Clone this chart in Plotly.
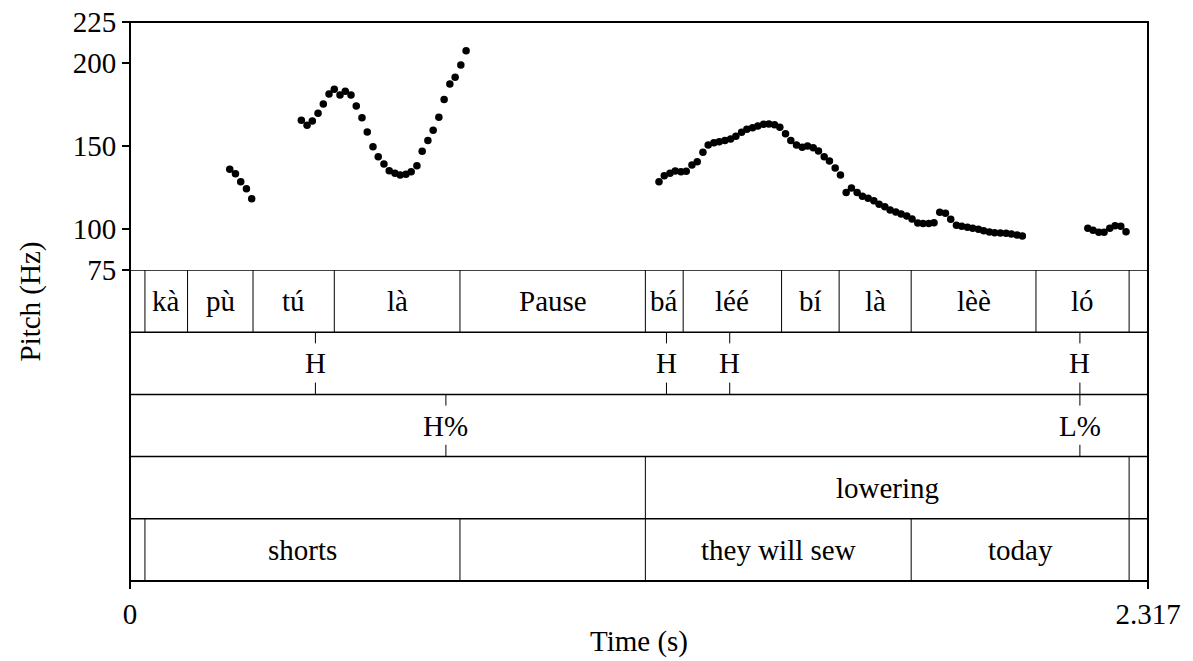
import plotly.graph_objects as go

# pitch track (s, Hz)
seg1_t = [0.227, 0.240, 0.252, 0.265, 0.277]
seg1_f = [135.9, 133.2, 128.4, 124.2, 118.1]

seg2_t = [0.390, 0.403, 0.415, 0.428, 0.440, 0.453, 0.465, 0.478, 0.490, 0.503,
          0.515, 0.528, 0.540, 0.553, 0.565, 0.578, 0.590, 0.603, 0.615, 0.628,
          0.640, 0.653, 0.665, 0.678, 0.690, 0.703, 0.715, 0.728, 0.740, 0.753, 0.765]
seg2_f = [165.5, 162.5, 165.1, 169.8, 175.4, 181.5, 184.3, 180.8, 183.1, 180.8,
          174.2, 167.1, 158.5, 149.6, 143.5, 139.1, 135.1, 133.5, 132.5, 132.9,
          134.5, 138.1, 146.8, 153.4, 159.5, 167.4, 178.2, 187.5, 191.6, 199.0, 207.6]

seg3_t = [1.204, 1.216, 1.229, 1.241, 1.254, 1.266, 1.279, 1.291, 1.304, 1.316,
          1.329, 1.341, 1.354, 1.367, 1.379, 1.392, 1.404, 1.417, 1.429, 1.442,
          1.454, 1.467, 1.479, 1.492, 1.504, 1.517, 1.530, 1.542, 1.555, 1.567,
          1.580, 1.592, 1.605, 1.617, 1.630, 1.642, 1.655, 1.667, 1.680, 1.693,
          1.705, 1.718, 1.730, 1.743, 1.755, 1.768, 1.780, 1.793, 1.805, 1.818,
          1.830, 1.843, 1.856, 1.868, 1.881, 1.893, 1.906, 1.918, 1.931, 1.943,
          1.956, 1.968, 1.981, 1.994, 2.006, 2.019, 2.031]
seg3_f = [128.4, 132.0, 133.5, 134.9, 134.5, 134.7, 138.5, 140.5, 146.2, 150.6,
          152.0, 152.6, 153.4, 154.2, 155.9, 158.3, 160.1, 161.1, 162.1, 163.1,
          163.3, 162.9, 161.3, 157.4, 153.4, 150.6, 149.2, 150.0, 149.0, 147.0,
          143.5, 140.9, 136.7, 132.5, 121.8, 124.6, 121.8, 119.6, 118.4, 116.9,
          114.7, 113.3, 111.3, 110.1, 108.9, 107.7, 105.8, 103.4, 103.2, 103.2,
          103.6, 109.9, 109.3, 105.7, 102.0, 101.4, 100.8, 100.2, 99.6, 98.8,
          98.0, 97.6, 97.4, 97.2, 96.8, 96.2, 95.6]

seg4_t = [2.180, 2.192, 2.205, 2.217, 2.230, 2.242, 2.255, 2.267]
seg4_f = [100.2, 99.0, 97.8, 97.8, 100.2, 101.8, 101.4, 98.2]

t_end = 2.317
pitch_ticks = [75, 100, 150, 200, 225]

# textgrid tiers
syl_bounds = [0.034, 0.131, 0.280, 0.465, 0.751, 1.173, 1.259, 1.483, 1.614, 1.778, 2.062, 2.274]
syl_labels = ["kà", "pù", "tú", "là", "Pause", "bá", "léé", "bí", "là", "lèè", "ló"]

tone_times = [0.422, 1.221, 1.365, 2.162]
tone_labels = ["H", "H", "H", "H"]

bnd_times = [0.719, 2.162]
bnd_labels = ["H%", "L%"]

low_bounds = [1.173, 2.274]
low_labels = ["lowering"]

gloss_bounds = [0.034, 0.751, 1.173, 1.778, 2.274]
gloss_labels = ["shorts", "", "they will sew", "today"]

FONT = "Liberation Serif, Times New Roman, serif"
FS = 29

fig = go.Figure()
fig.add_trace(go.Scatter(
    x=seg1_t + seg2_t + seg3_t + seg4_t,
    y=seg1_f + seg2_f + seg3_f + seg4_f,
    mode="markers",
    marker=dict(color="black", size=7.5, line=dict(width=0)),
    showlegend=False,
    yaxis="y", xaxis="x"))

shapes = []
annots = []

def vline(t, tier, y0=0.0, y1=1.0, w=1):
    shapes.append(dict(type="line", xref="x", yref="y2", x0=t, x1=t,
                       y0=tier + y0, y1=tier + y1, line=dict(color="black", width=w)))

def label(t, tier, txt):
    annots.append(dict(x=t, y=tier + 0.5, xref="x", yref="y2", text=txt, showarrow=False,
                       font=dict(family=FONT, size=FS, color="black"),
                       xanchor="center", yanchor="middle"))

def interval_tier(tier, bounds, labels):
    for b in bounds:
        vline(b, tier)
    for i, txt in enumerate(labels):
        if txt:
            label((bounds[i] + bounds[i + 1]) / 2, tier, txt)

def point_tier(tier, times, labels):
    for t, txt in zip(times, labels):
        vline(t, tier, 0, 0.18)
        vline(t, tier, 0.81, 1)
        label(t, tier, txt)

interval_tier(0, syl_bounds, syl_labels)
point_tier(1, tone_times, tone_labels)
point_tier(2, bnd_times, bnd_labels)
interval_tier(3, low_bounds, low_labels)
interval_tier(4, gloss_bounds, gloss_labels)

# tier separators
for k in range(5):
    shapes.append(dict(type="line", xref="paper", yref="y2", x0=0, x1=1, y0=k, y1=k,
                       line=dict(color="black", width=1.5)))
# frame
shapes.append(dict(type="rect", xref="paper", yref="paper", x0=0, x1=1, y0=0, y1=1,
                   line=dict(color="black", width=2)))

split = 311 / 559.0
annots.append(dict(x=0, y=0.5, xref="paper", yref="paper", xshift=-100, text="Pitch (Hz)",
                   textangle=-90, showarrow=False, font=dict(family=FONT, size=FS, color="black"),
                   xanchor="center", yanchor="middle"))
annots.append(dict(x=0.5, y=0, xref="paper", yref="paper", yshift=-60, text="Time (s)",
                   showarrow=False, font=dict(family=FONT, size=FS, color="black"),
                   xanchor="center", yanchor="middle"))

fig.update_layout(
    width=1193, height=661,
    margin=dict(l=130, r=45, t=22, b=80, autoexpand=False),
    paper_bgcolor="white", plot_bgcolor="white",
    font=dict(family=FONT, size=FS, color="black"),
    xaxis=dict(range=[0, t_end], tickvals=[0, t_end], ticktext=["0", "2.317"],
               ticks="outside", ticklen=7, tickwidth=1.5, tickcolor="black",
               showgrid=False, zeroline=False, showline=False, anchor="y2",
               automargin=False, ticklabeloverflow="allow"),
    yaxis=dict(domain=[split, 1], range=[75, 225], tickvals=pitch_ticks,
               ticks="outside", ticklen=7, tickwidth=1.5, tickcolor="black",
               showgrid=False, zeroline=False, showline=False, automargin=False,
               ticklabeloverflow="allow"),
    yaxis2=dict(domain=[0, split], range=[5, 0], showticklabels=False, ticks="",
                showgrid=False, zeroline=False, showline=False, automargin=False),
    shapes=shapes, annotations=annots)

# drop the page's default body margin so the figure sits at the window origin
fig.write_html("out.html", config={"displayModeBar": False},
               post_script="document.body.style.margin='0px';document.body.style.overflow='hidden';")
